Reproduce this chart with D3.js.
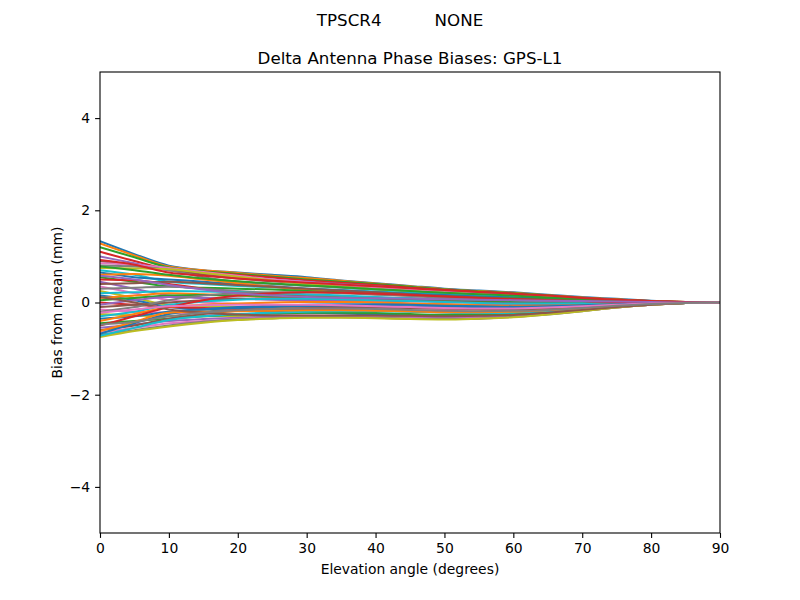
<!DOCTYPE html>
<html><head><meta charset="utf-8">
<script src="https://cdn.jsdelivr.net/npm/d3@7"></script>
<style>body{margin:0;background:#fff}text{font-family:"DejaVu Sans",sans-serif}</style>
</head><body><svg id="c" width="800" height="600"></svg>
<script>
const elevations = [0,5,10,15,20,25,30,35,40,45,50,55,60,65,70,75,80,85,90];
const biases = [
[1.33,1.05,0.80,0.70,0.65,0.60,0.55,0.48,0.42,0.36,0.30,0.26,0.22,0.17,0.12,0.08,0.04,0.01,0],
[1.28,1.02,0.78,0.70,0.64,0.58,0.53,0.47,0.41,0.35,0.29,0.25,0.21,0.16,0.11,0.07,0.03,0.01,0],
[1.20,0.98,0.76,0.68,0.62,0.56,0.50,0.45,0.40,0.34,0.28,0.24,0.20,0.15,0.10,0.06,0.03,0.01,0],
[1.10,0.90,0.72,0.66,0.60,0.54,0.48,0.43,0.38,0.32,0.27,0.23,0.19,0.14,0.10,0.06,0.03,0.01,0],
[1.00,0.85,0.70,0.62,0.56,0.50,0.45,0.40,0.35,0.30,0.25,0.21,0.17,0.13,0.09,0.05,0.02,0.01,0],
[0.90,0.80,0.72,0.60,0.52,0.46,0.42,0.37,0.32,0.28,0.23,0.20,0.16,0.12,0.08,0.05,0.02,0.01,0],
[0.85,0.82,0.75,0.66,0.58,0.50,0.44,0.38,0.33,0.28,0.23,0.19,0.15,0.11,0.08,0.05,0.02,0.01,0],
[0.80,0.78,0.70,0.55,0.45,0.40,0.36,0.32,0.28,0.24,0.20,0.17,0.14,0.10,0.07,0.04,0.02,0.00,0],
[0.75,0.74,0.72,0.64,0.56,0.48,0.40,0.34,0.29,0.25,0.21,0.18,0.14,0.11,0.08,0.05,0.02,0.00,0],
[0.70,0.60,0.45,0.40,0.36,0.33,0.30,0.27,0.24,0.21,0.18,0.15,0.12,0.09,0.06,0.04,0.02,0.00,0],
[0.65,0.55,0.50,0.45,0.40,0.35,0.30,0.26,0.22,0.19,0.16,0.13,0.11,0.08,0.06,0.03,0.01,0.00,0],
[0.60,0.62,0.58,0.50,0.42,0.34,0.27,0.22,0.18,0.15,0.12,0.10,0.08,0.06,0.04,0.02,0.01,0.00,0],
[0.55,0.45,0.35,0.32,0.30,0.28,0.25,0.22,0.19,0.16,0.13,0.11,0.09,0.07,0.05,0.03,0.01,0.00,0],
[0.50,0.48,0.40,0.30,0.22,0.18,0.15,0.13,0.11,0.09,0.07,0.06,0.05,0.04,0.03,0.02,0.01,0.00,0],
[0.45,0.30,0.15,0.10,0.08,0.07,0.06,0.05,0.04,0.03,0.02,0.02,0.01,0.01,0.00,0.00,0.00,0.00,0],
[0.40,0.42,0.45,0.42,0.38,0.34,0.30,0.26,0.22,0.18,0.14,0.11,0.08,0.06,0.04,0.02,0.01,0.00,0],
[0.35,0.20,0.05,0.00,-0.03,-0.05,-0.07,-0.09,-0.11,-0.13,-0.14,-0.14,-0.13,-0.11,-0.08,-0.05,-0.02,-0.01,0],
[0.30,0.32,0.34,0.30,0.25,0.20,0.16,0.12,0.09,0.06,0.04,0.03,0.02,0.01,0.01,0.00,0.00,0.00,0],
[0.25,0.10,-0.05,-0.08,-0.10,-0.12,-0.14,-0.16,-0.18,-0.19,-0.20,-0.19,-0.17,-0.14,-0.10,-0.06,-0.03,-0.01,0],
[0.20,0.22,0.25,0.24,0.22,0.20,0.18,0.15,0.12,0.09,0.06,0.04,0.03,0.02,0.01,0.00,0.00,0.00,0],
[0.15,0.05,-0.10,-0.15,-0.18,-0.20,-0.22,-0.24,-0.26,-0.28,-0.29,-0.28,-0.25,-0.20,-0.15,-0.09,-0.04,-0.01,0],
[0.10,0.15,0.20,0.18,0.15,0.12,0.10,0.08,0.06,0.04,0.02,0.01,0.00,0.00,0.00,0.00,0.00,0.00,0],
[0.05,0.10,0.15,0.16,0.15,0.14,0.12,0.10,0.08,0.06,0.04,0.02,0.01,0.00,0.00,0.00,0.00,0.00,0],
[0.00,-0.05,-0.10,-0.12,-0.14,-0.15,-0.16,-0.17,-0.18,-0.19,-0.20,-0.20,-0.18,-0.15,-0.11,-0.07,-0.03,-0.01,0],
[-0.05,0.05,0.12,0.10,0.08,0.06,0.04,0.02,0.00,-0.02,-0.04,-0.05,-0.05,-0.04,-0.03,-0.02,-0.01,0.00,0],
[-0.10,-0.05,0.00,0.05,0.08,0.09,0.09,0.08,0.06,0.04,0.02,0.00,-0.01,-0.02,-0.02,-0.01,-0.01,0.00,0],
[-0.15,-0.20,-0.22,-0.24,-0.26,-0.27,-0.28,-0.29,-0.30,-0.31,-0.32,-0.31,-0.28,-0.23,-0.17,-0.10,-0.05,-0.01,0],
[-0.20,-0.10,0.05,0.15,0.20,0.22,0.22,0.20,0.17,0.14,0.10,0.07,0.05,0.03,0.02,0.01,0.00,0.00,0],
[-0.25,-0.28,-0.30,-0.30,-0.30,-0.30,-0.30,-0.31,-0.32,-0.33,-0.34,-0.33,-0.30,-0.25,-0.18,-0.11,-0.05,-0.01,0],
[-0.30,-0.20,-0.05,0.02,0.06,0.08,0.08,0.07,0.05,0.03,0.01,-0.01,-0.02,-0.02,-0.02,-0.01,0.00,0.00,0],
[-0.35,-0.30,-0.20,-0.15,-0.12,-0.10,-0.08,-0.07,-0.07,-0.08,-0.09,-0.10,-0.10,-0.09,-0.07,-0.04,-0.02,-0.01,0],
[-0.40,-0.25,-0.10,-0.05,-0.02,0.00,0.01,0.01,0.00,-0.02,-0.04,-0.06,-0.07,-0.07,-0.06,-0.04,-0.02,-0.01,0],
[-0.45,-0.40,-0.35,-0.30,-0.26,-0.24,-0.22,-0.22,-0.23,-0.25,-0.27,-0.27,-0.25,-0.21,-0.15,-0.09,-0.04,-0.01,0],
[-0.50,-0.30,-0.10,0.05,0.15,0.20,0.22,0.21,0.19,0.16,0.13,0.10,0.07,0.05,0.03,0.01,0.00,0.00,0],
[-0.55,-0.48,-0.40,-0.36,-0.33,-0.31,-0.30,-0.30,-0.31,-0.32,-0.33,-0.32,-0.29,-0.24,-0.17,-0.10,-0.05,-0.01,0],
[-0.60,-0.50,-0.35,-0.25,-0.18,-0.14,-0.12,-0.11,-0.11,-0.12,-0.13,-0.14,-0.14,-0.12,-0.09,-0.06,-0.03,-0.01,0],
[-0.65,-0.55,-0.45,-0.40,-0.36,-0.33,-0.31,-0.31,-0.32,-0.34,-0.35,-0.34,-0.31,-0.25,-0.18,-0.11,-0.05,-0.01,0],
[-0.70,-0.60,-0.50,-0.42,-0.37,-0.34,-0.32,-0.32,-0.33,-0.35,-0.36,-0.35,-0.31,-0.26,-0.19,-0.11,-0.05,-0.01,0],
[-0.75,-0.62,-0.52,-0.44,-0.38,-0.35,-0.33,-0.33,-0.34,-0.36,-0.37,-0.35,-0.32,-0.26,-0.19,-0.11,-0.05,-0.01,0],
[-0.72,-0.55,-0.38,-0.30,-0.25,-0.22,-0.20,-0.19,-0.19,-0.20,-0.22,-0.23,-0.22,-0.19,-0.14,-0.08,-0.04,-0.01,0],
[-0.68,-0.45,-0.25,-0.15,-0.10,-0.07,-0.05,-0.04,-0.04,-0.05,-0.07,-0.08,-0.09,-0.08,-0.06,-0.04,-0.02,-0.01,0],
[-0.62,-0.42,-0.22,-0.20,-0.19,-0.18,-0.17,-0.17,-0.18,-0.19,-0.21,-0.21,-0.20,-0.17,-0.13,-0.08,-0.04,-0.01,0],
[0.78,0.70,0.60,0.52,0.46,0.41,0.37,0.33,0.29,0.25,0.21,0.18,0.15,0.11,0.08,0.05,0.02,0.01,0],
[0.92,0.82,0.65,0.58,0.52,0.47,0.43,0.39,0.35,0.31,0.27,0.23,0.19,0.15,0.10,0.06,0.03,0.01,0],
[0.58,0.50,0.38,0.28,0.20,0.15,0.12,0.10,0.09,0.08,0.07,0.06,0.05,0.04,0.03,0.02,0.01,0.00,0],
[0.12,0.00,-0.15,-0.22,-0.26,-0.28,-0.28,-0.28,-0.28,-0.29,-0.30,-0.29,-0.27,-0.22,-0.16,-0.10,-0.05,-0.01,0],
[-0.22,-0.15,-0.08,-0.06,-0.05,-0.05,-0.05,-0.06,-0.08,-0.10,-0.12,-0.13,-0.13,-0.11,-0.08,-0.05,-0.02,-0.01,0],
[-0.48,-0.42,-0.30,-0.22,-0.17,-0.14,-0.13,-0.13,-0.14,-0.16,-0.18,-0.19,-0.18,-0.16,-0.12,-0.07,-0.03,-0.01,0]
];
const xTicks=[0,10,20,30,40,50,60,70,80,90];
const yTicks=[-4,-2,0,2,4];
const tab10=["#1f77b4","#ff7f0e","#2ca02c","#d62728","#9467bd","#8c564b","#e377c2","#7f7f7f","#bcbd22","#17becf"];
const svg=d3.select("#c");
const L=100,R=720,T=72,B=533;
const x=d3.scaleLinear().domain([0,90]).range([L,R]);
const y=d3.scaleLinear().domain([-5,5]).range([B,T]);
svg.append("defs").append("clipPath").attr("id","cp").append("rect").attr("x",L).attr("y",T).attr("width",R-L).attr("height",B-T);
const line=d3.line().x((d,i)=>x(elevations[i])).y(d=>y(d)).curve(d3.curveMonotoneX);
svg.append("g").attr("clip-path","url(#cp)").selectAll("path").data(biases).join("path")
 .attr("d",line).attr("fill","none").attr("stroke",(d,i)=>tab10[i%10]).attr("stroke-width",2);
const xa=svg.append("g").attr("transform",`translate(0,${B})`).call(d3.axisBottom(x).tickValues(xTicks).tickSize(4.9).tickPadding(4.9));
const ya=svg.append("g").attr("transform",`translate(${L},0)`).call(d3.axisLeft(y).tickValues(yTicks).tickSize(4.9).tickPadding(4.9).tickFormat(d=>d<0?"\u2212"+Math.abs(d):d));
[xa,ya].forEach(a=>{a.selectAll("text").attr("font-size",13.9).attr("fill","#000");a.selectAll("line").attr("stroke-width",1.1);a.select(".domain").remove();});
svg.append("rect").attr("x",L).attr("y",T).attr("width",R-L).attr("height",B-T).attr("fill","none").attr("stroke","#000").attr("stroke-width",1.1);
svg.append("text").attr("x",410).attr("y",64).attr("text-anchor","middle").attr("font-size",16.7).text("Delta Antenna Phase Biases: GPS-L1");
svg.append("text").attr("x",400).attr("y",26).attr("text-anchor","middle").attr("font-size",16.7).attr("xml:space","preserve").style("white-space","pre").text("TPSCR4          NONE");
svg.append("text").attr("x",410).attr("y",574).attr("text-anchor","middle").attr("font-size",13.9).text("Elevation angle (degrees)");
svg.append("text").attr("transform","translate(62,302.5) rotate(-90)").attr("text-anchor","middle").attr("font-size",13.9).text("Bias from mean (mm)");
</script></body></html>
